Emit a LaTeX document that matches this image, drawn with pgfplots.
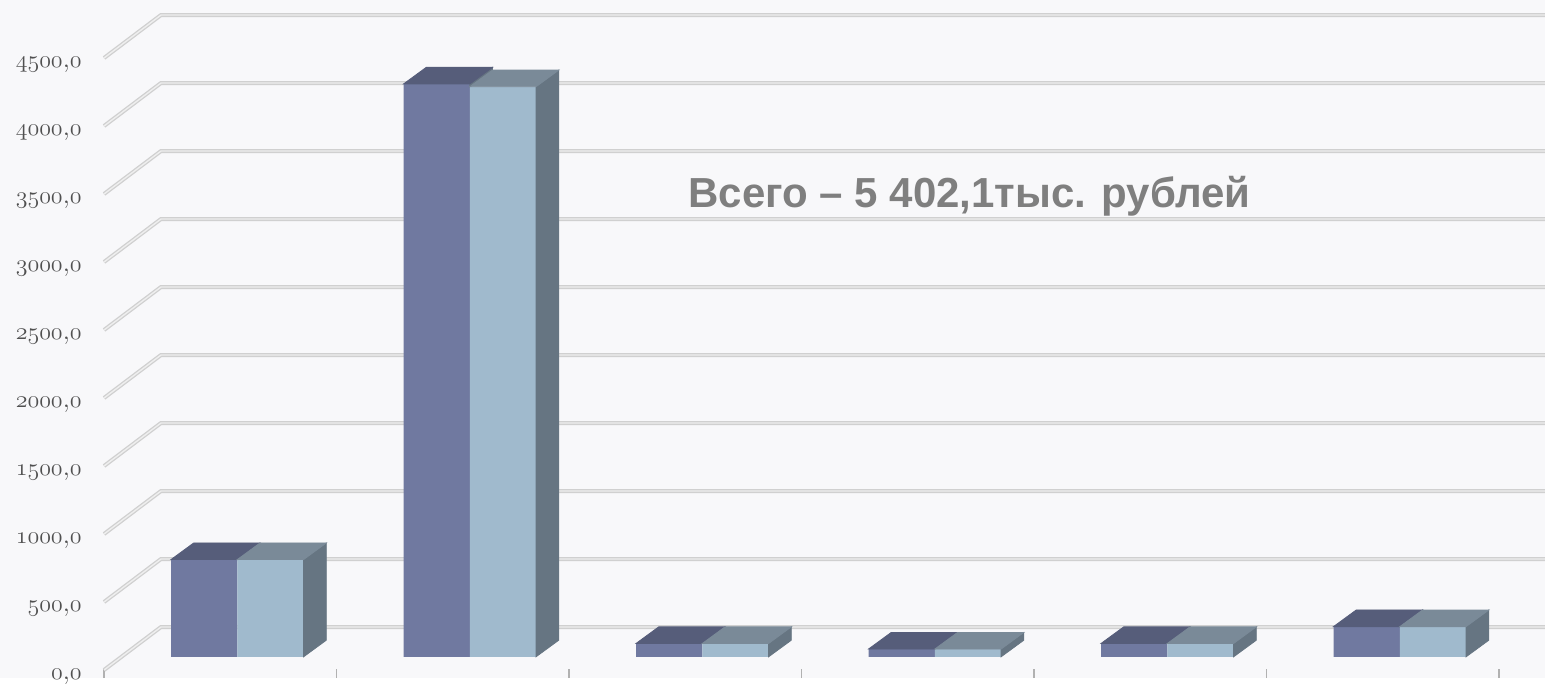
\documentclass[border=0pt]{standalone}
\usepackage{pgfplots}
\pgfplotsset{compat=1.18}
\usepackage{fontspec}
\newfontfamily\arialfont{Liberation Sans}

\definecolor{bg}{HTML}{F8F8FA}
\definecolor{darkfront}{HTML}{7079A0}
\definecolor{darktop}{HTML}{565D7A}
\definecolor{lightfront}{HTML}{A0BACD}
\definecolor{lighttop}{HTML}{7A8A98}
\definecolor{barside}{HTML}{667582}
\definecolor{gridout}{HTML}{D0D0D0}
\definecolor{gridin}{HTML}{EEEEEE}
\definecolor{labelgray}{HTML}{505050}
\definecolor{notegray}{HTML}{7F7F7F}

% empty mark: the scatter code below draws the 3D faces itself
\pgfdeclareplotmark{none3d}{}

% category, first series, second series
\pgfplotstableread{
x a b
1 715 715
2 4212 4192
3 98 98
4 57 57
5 98 98
6 222.1 222
}\costs

% one gridline: front-left corner, back-left corner, along the back wall
\newcommand\gridline[2]{%
  \addplot[gridout, line width=2pt] coordinates {(0.4267,#1) (0.6718,#2) (7,#2)};
  \addplot[gridin, line width=0.7pt] coordinates {(0.4267,#1) (0.6718,#2) (7,#2)};
}
% old-style figures from the math italic font
\newcommand\lab[1]{$\mathnormal{#1}$,$\mathnormal{0}$}

\begin{document}
\begin{tikzpicture}
\begin{axis}[
  x=116.25pt, y=0.068pt,
  xmin=-0.02065, xmax=6.6245,
  ymin=-155.9, ymax=4829.5,
  axis background/.style={fill=bg},
  axis line style={draw=none},
  xtick={0.4267,1.4267,2.4267,3.4267,4.4267,5.4267,6.4267},
  xticklabels={},
  xtick pos=bottom, tick align=inside,
  major tick length=4.5pt,
  xtick style={draw=gridout!85!black, line width=0.6pt},
  ytick={-97.1,402.9,902.9,1402.9,1902.9,2402.9,2902.9,3402.9,3902.9,4402.9},
  yticklabels={\lab{0},\lab{500},\lab{1000},\lab{1500},\lab{2000},\lab{2500},\lab{3000},\lab{3500},\lab{4000},\lab{4500}},
  ytick style={draw=none},
  yticklabel style={anchor=east, inner sep=0pt, xshift=41pt, yshift=-3.5pt, text=labelgray,
    font=\fontsize{13}{13}\selectfont},
]
\gridline{-97.1}{219.1}
\gridline{402.9}{719.1}
\gridline{902.9}{1219.1}
\gridline{1402.9}{1719.1}
\gridline{1902.9}{2219.1}
\gridline{2402.9}{2719.1}
\gridline{2902.9}{3219.1}
\gridline{3402.9}{3719.1}
\gridline{3902.9}{4219.1}
\gridline{4402.9}{4719.1}

% front faces of both series
\addplot[ybar, bar width=33.15pt, bar shift=-16.575pt, fill=darkfront, draw=none]
  table[x=x, y=a] {\costs};
\addplot[ybar, bar width=33.15pt, bar shift=16.575pt, fill=lightfront, draw=none]
  table[x=x, y=b] {\costs};

% top faces (first series), with the part of its side that rises above the second bar
\addplot[scatter, only marks, mark=none3d,
  visualization depends on={(\thisrow{a}-\thisrow{b})*0.068 \as \dd},
  scatter/@pre marker code/.code={%
    \fill[barside] (0pt,0pt) -- ++(11.35pt,8.3pt) -- ++(0pt,-\dd pt) -- (0pt,-\dd pt) -- cycle;
    \fill[darktop] (-33.15pt,0pt) -- ++(11.35pt,8.3pt) -- ++(33.15pt,0pt) -- (0pt,0pt) -- cycle;
  },
  scatter/@post marker code/.code={}]
  table[x=x, y=a] {\costs};

% top and right side faces (second series)
\addplot[scatter, only marks, mark=none3d,
  visualization depends on={rawy \as \rawy},
  scatter/@pre marker code/.code={%
    \pgfmathsetmacro\hh{\rawy*0.068}%
    \fill[barside] (33.15pt,0pt) -- ++(11.35pt,8.3pt) -- ++(0pt,-\hh pt) -- (33.15pt,-\hh pt) -- cycle;
    \fill[lighttop] (0pt,0pt) -- ++(11.35pt,8.3pt) -- ++(33.15pt,0pt) -- (33.15pt,0pt) -- cycle;
  },
  scatter/@post marker code/.code={}]
  table[x=x, y=b] {\costs};

\node[anchor=base, inner sep=0pt, text=notegray,
  font=\arialfont\bfseries\fontsize{21}{25}\selectfont]
  at (axis cs:4.149,3307) {Всего – 5 402,1тыс. рублей};
\end{axis}
\end{tikzpicture}
\end{document}
